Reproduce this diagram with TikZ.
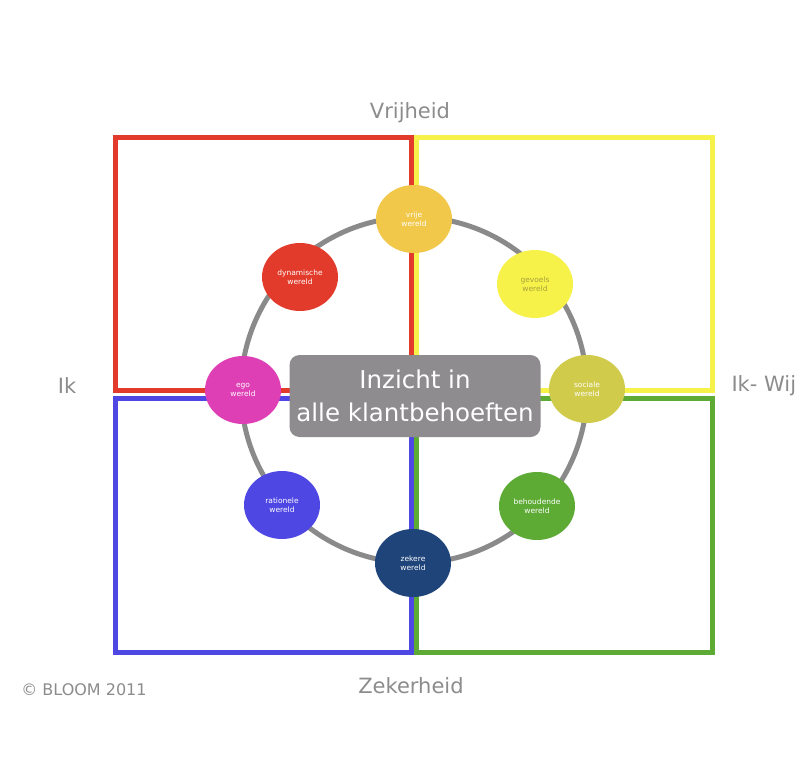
\documentclass[tikz,border=0pt]{standalone}
\usepackage{fontspec}
\setmainfont{DejaVu Sans}
\usetikzlibrary{shapes.geometric}
\definecolor{kader}{HTML}{8E8C8E}
\definecolor{asgrijs}{HTML}{8A8A8A}
\definecolor{tekstgrijs}{HTML}{8C8C8C}
\definecolor{rood}{HTML}{E23B2B}
\definecolor{geel}{HTML}{F7F24A}
\definecolor{blauw}{HTML}{4F47E4}
\definecolor{groen}{HTML}{5DAA35}
\definecolor{goud}{HTML}{F1C84A}
\definecolor{roze}{HTML}{DE3FB4}
\definecolor{olijf}{HTML}{D0CB4B}
\definecolor{marine}{HTML}{1F4479}
\begin{document}
\begin{tikzpicture}[x=1pt, y=-1pt,
    wereld/.style={ellipse, minimum width=76pt, minimum height=68pt, inner sep=0pt,
      text=white, font=\fontsize{7.5}{8.5}\selectfont, align=center},
    as/.style={text=tekstgrijs, font=\fontsize{21}{24}\selectfont}]
	  \useasboundingbox (0,0) rectangle (801,771);
	  \clip (0,0) rectangle (801,771);
	  \fill[white] (0,0) rectangle (801,771);
	  %kwadranten
	  \draw[rood, line width=5pt] (115,390) -- (115,137) -- (411,137) -- (411,390) -- cycle;
	  \draw[geel, line width=5pt] (416,390) -- (416,137) -- (712,137) -- (712,390) -- cycle;
	  \draw[blauw, line width=5pt] (115,398) -- (115,652) -- (411,652) -- (411,398) -- cycle;
	  \draw[groen, line width=5pt] (416,398) -- (416,652) -- (712,652) -- (712,398) -- cycle;
	  %ring
	  \coordinate (midden) at (414,390);
	  \draw[asgrijs, line width=5pt] (midden) circle (173);
	  \node[fill=kader, rounded corners=10pt, minimum width=251pt, minimum height=82pt,
	    text=white, font=\fontsize{24.5}{33}\selectfont, align=center, inner sep=0pt]
	    (inzicht) at (415,396) {Inzicht in\\alle klantbehoeften};
	  %werelden
	  \node[wereld, fill=goud] (vrij) at ([shift={(0,-171)}]midden) {vrije\\wereld};
	  \node[wereld, fill=rood] (dynamisch) at ([shift={(-114,-113)}]midden) {dynamische\\wereld};
	  \node[wereld, fill=geel, text=olijf!80!black] (gevoel) at ([shift={(121,-106)}]midden) {gevoels\\wereld};
	  \node[wereld, fill=roze] (ego) at ([shift={(-171,0)}]midden) {ego\\wereld};
	  \node[wereld, fill=olijf] (sociaal) at ([shift={(173,-1)}]midden) {sociale\\wereld};
	  \node[wereld, fill=blauw] (rationeel) at ([shift={(-132,115)}]midden) {rationele\\wereld};
	  \node[wereld, fill=groen] (behoudend) at ([shift={(123,116)}]midden) {behoudende\\wereld};
	  \node[wereld, fill=marine] (zeker) at ([shift={(-1,173)}]midden) {zekere\\wereld};
	  %assen
	  \node[as] (vrijheid) at (410,113) {Vrijheid};
	  \node[as] (zekerheid) at (411,686) {Zekerheid};
	  \node[as] (ik) at (67,386) {Ik};
	  \node[as, anchor=west] (ikwij) at (728,386) {Ik- Wij};
	  \node[text=tekstgrijs, font=\fontsize{16}{18}\selectfont] (bloom) at (84,690) {© BLOOM 2011};
	\end{tikzpicture}
\end{document}
